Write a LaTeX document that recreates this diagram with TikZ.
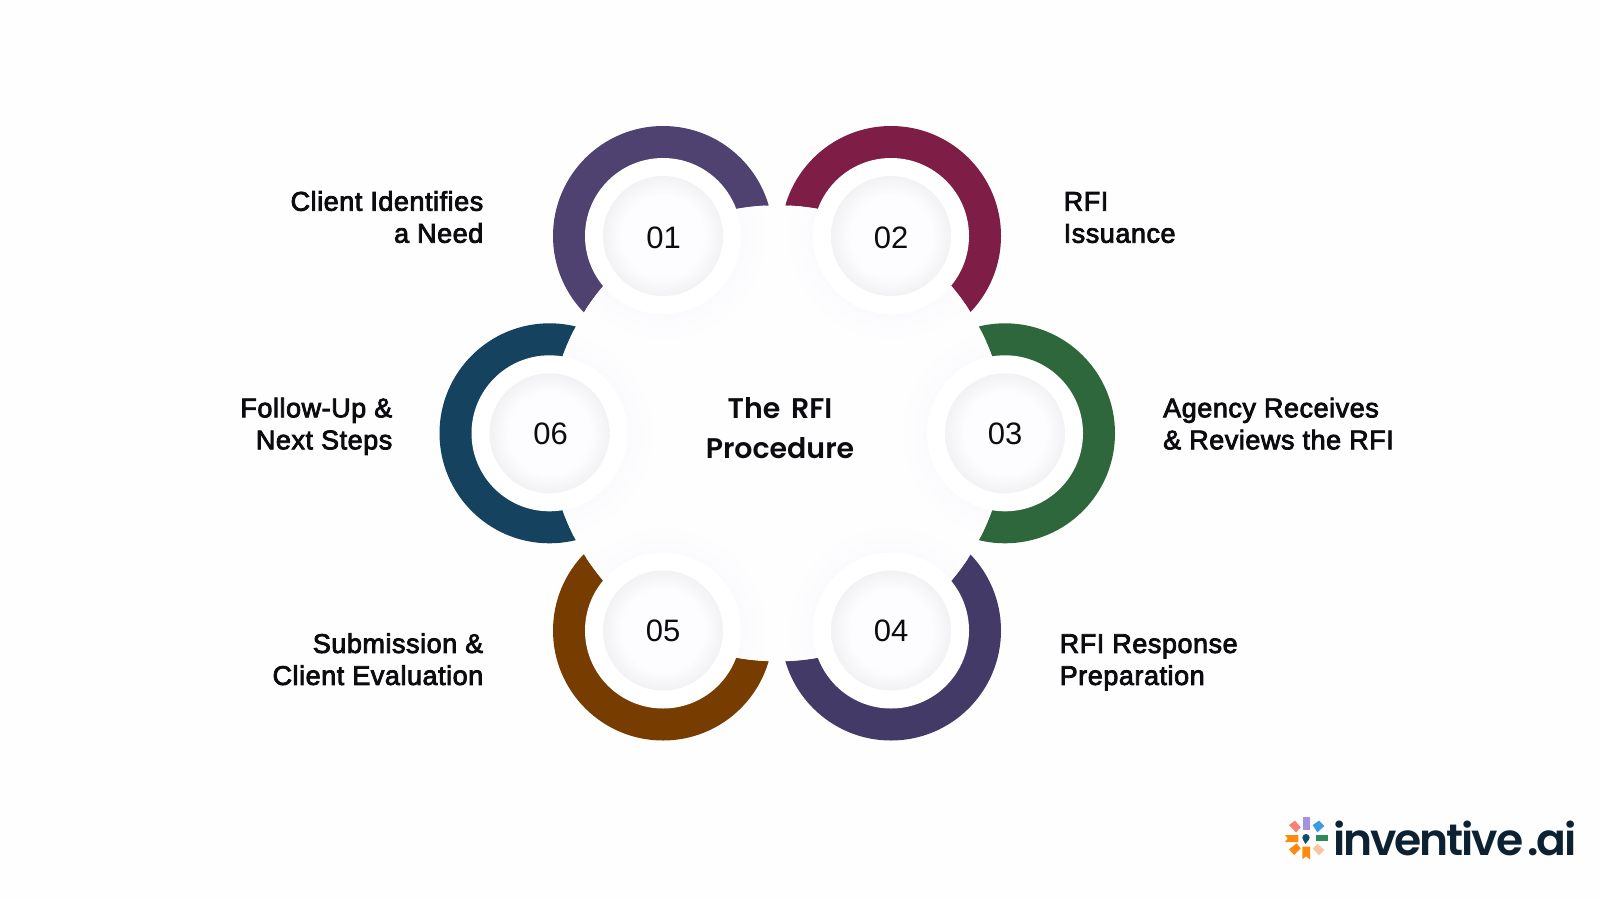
\documentclass[tikz,border=0pt]{standalone}
\usepackage{fontspec}
\setmainfont{Liberation Sans}
\newfontfamily\labfont[FakeBold=3,LetterSpace=2,Ligatures=NoCommon]{Liberation Sans}
\newfontfamily\numfont{Liberation Sans}
\newfontfamily\titlefont[WordSpace=1.6]{Poppins SemiBold}
\newfontfamily\logofont[LetterSpace=-4.7,WordSpace=0.45]{Poppins SemiBold}
\definecolor{bgc}{HTML}{FEFEFE}
\definecolor{c1}{HTML}{4F4270}
\definecolor{c2}{HTML}{7E1D45}
\definecolor{c3}{HTML}{2F673C}
\definecolor{c4}{HTML}{443A67}
\definecolor{c5}{HTML}{763C00}
\definecolor{c6}{HTML}{14425F}
\definecolor{halo}{HTML}{FBFAFD}
\definecolor{discin}{HTML}{FDFCFE}
\definecolor{discout}{HTML}{F2F1F3}
\definecolor{ink}{HTML}{0C0C10}
\definecolor{logoink}{HTML}{0C2233}
\definecolor{lgpurple}{HTML}{A98FE0}
\definecolor{lgblue}{HTML}{3B9BE0}
\definecolor{lgcoral}{HTML}{F97F78}
\definecolor{lgorange}{HTML}{FF8A0F}
\definecolor{lggreen}{HTML}{2E8B57}
\definecolor{lgpeach}{HTML}{FBC4A0}
\definecolor{lgteal}{HTML}{0F4C6B}
\pgfdeclareradialshading{haloshade}{\pgfpoint{0bp}{0bp}}{color(0bp)=(halo); color(18.4bp)=(halo); color(25bp)=(bgc); color(50bp)=(bgc)}
\pgfdeclareradialshading{discshade}{\pgfpoint{0bp}{0bp}}{color(0bp)=(discin); color(17bp)=(discin); color(25bp)=(discout); color(50bp)=(discout)}
\tikzset{
  ringdisc/.style={fill=#1},
  lab/.style={font=\labfont\fontsize{27}{32}\selectfont,text=ink,inner sep=0pt,align=#1},
  numlab/.style={font=\numfont\fontsize{31}{36}\selectfont,text=ink,inner sep=0pt},
  title/.style={font=\titlefont\fontsize{28.4}{40}\selectfont,text=ink,inner sep=0pt,align=center},
}
\begin{document}
\begin{tikzpicture}[x=1pt,y=-1pt]
\useasboundingbox (0,0) rectangle (1600,900);
\fill[bgc] (0,0) rectangle (1600,900);
% coloured rings: full discs, the big circle then cuts them
\coordinate (hub) at (777.3,433.3);
\coordinate (p1) at (663,236);
\coordinate (p2) at (891,236);
\coordinate (p3) at (1005,433.3);
\coordinate (p4) at (891,630.5);
\coordinate (p5) at (663,630.5);
\coordinate (p6) at (549.5,433.3);
\foreach \p/\c in {p1/c1,p2/c2,p3/c3,p4/c4,p5/c5,p6/c6}{
  \fill[ringdisc=\c] (\p) circle (110);
}
\fill[bgc] (hub) circle (228);
\begin{scope}
  \clip (hub) circle (228);
  \foreach \p in {p1,p2,p3,p4,p5,p6}{
    \shade[shading=haloshade] (\p) circle (106);
  }
\end{scope}
\foreach \p in {p1,p2,p3,p4,p5,p6}{
  \fill[white] (\p) circle (78);
  \shade[shading=discshade] (\p) circle (60);
}
\node[numlab,yshift=-1.5pt,xshift=0.5pt] (n1) at (p1) {01};
\node[numlab,yshift=-1.5pt] (n2) at (p2) {02};
\node[numlab,yshift=-1pt] (n3) at (p3) {03};
\node[numlab] (n4) at (p4) {04};
\node[numlab] (n5) at (p5) {05};
\node[numlab,yshift=-1pt,xshift=1pt] (n6) at (p6) {06};
\node[title] (centre) at (780,430.2) {\strut The RFI\\\strut Procedure};
\node[lab=right,anchor=east] (t1) at (483.5,220.3) {\strut Client Identifies\\\strut a Need};
\node[lab=left,anchor=west] (t2) at (1063.5,220.3) {\strut RFI\\\strut Issuance};
\node[lab=left,anchor=west] (t3) at (1163,426.9) {\strut Agency Receives\\\strut \& Reviews the RFI};
\node[lab=left,anchor=west] (t4) at (1059.5,662.5) {\strut RFI Response\\\strut Preparation};
\node[lab=right,anchor=east] (t5) at (483.5,662.5) {\strut Submission \&\\\strut Client Evaluation};
\node[lab=right,anchor=east] (t6) at (392.5,426.9) {\strut Follow-Up \&\\\strut Next Steps};
% logo
\node[anchor=base west,inner sep=0pt,text=logoink,font=\logofont\fontsize{44}{44}\selectfont] (logo) at (1333,855) {inventive .ai};
\begin{scope}[shift={(1270,800)},x=0.3333pt,y=-0.3333pt]
  \fill[lgpurple] (98,50) rectangle (120,90);
  \fill[lgblue] (128,75) -- (147,62) -- (163,78) -- (142,97) -- cycle;
  \fill[lgcoral] (57,75) -- (75,62) -- (92,82) -- (78,97) -- cycle;
  \fill[lgorange] (45,105) -- (85,105) -- (85,126) -- (45,126) -- (53,115) -- cycle;
  \fill[lggreen] (138,104) rectangle (175,124);
  \fill[lgorange] (97,140) -- (120,140) -- (120,178) -- (108,169) -- (97,178) -- cycle;
  \fill[lgorange] (57,148) -- (80,130) -- (92,145) -- (72,165) -- cycle;
  \fill[lgpeach] (128,145) -- (143,132) -- (163,150) -- (147,166) -- cycle;
  \fill[lgteal] (108,113) circle (11);
  \fill[lgteal] (99,118) -- (117,118) -- (106,132) -- cycle;
\end{scope}
\end{tikzpicture}
\end{document}
